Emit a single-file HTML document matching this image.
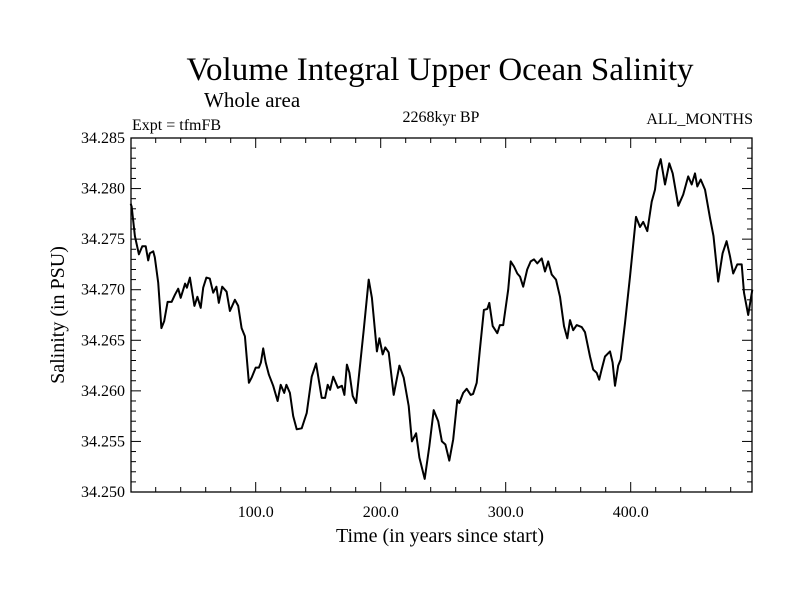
<!DOCTYPE html>
<html><head><meta charset="utf-8"><style>
html,body{margin:0;padding:0;background:#fff;}
svg{display:block;font-family:"Liberation Serif",serif;}
</style></head><body>
<svg id="chart" width="800" height="600" viewBox="0 0 800 600">
<rect width="800" height="600" fill="#fff"/>
<text x="440" y="80" font-size="33" text-anchor="middle">Volume Integral Upper Ocean Salinity</text>
<text x="204" y="107" font-size="21">Whole area</text>
<text x="132" y="130" font-size="16">Expt = tfmFB</text>
<text x="441" y="122" font-size="16" text-anchor="middle">2268kyr BP</text>
<text x="753" y="124" font-size="16" text-anchor="end">ALL_MONTHS</text>
<text x="440" y="542" font-size="20" text-anchor="middle">Time (in years since start)</text>
<text transform="translate(64,315) rotate(-90)" font-size="20" text-anchor="middle">Salinity (in PSU)</text>
<g id="ticks"></g>
<g id="labels"></g>
<polyline id="series" fill="none" stroke="#000" stroke-width="2" stroke-linejoin="round"/>
<rect x="131" y="138" width="621" height="354" fill="none" stroke="#000" stroke-width="1.3"/>
</svg>
<script>
const years = [0,0.8,3.4,6.6,9.3,12,14,15.3,18,19.3,22,24.6,26.8,29.5,32.7,35.4,38,40,43.5,45,47.4,51,53.4,56,58,60.6,63.3,66,68.6,70.5,73.2,76.7,79.4,83.4,86,88.7,91.4,94.6,96.7,100,102.6,104.2,106,108,110.6,114,117.5,120,122.8,124.6,127.4,130,132.8,136.8,140.8,144.8,148.3,152.8,155.5,157.6,159.5,162,165.8,169,171,173,175,177.6,180.3,186.4,190.4,193,197,199,201.6,203.7,206.4,210.4,215,218.4,222.4,225,228.3,231,235.2,238.9,242.4,246,249,251.8,254.9,258,261.3,262.9,266,268.8,272,273.9,276.8,279.4,282.6,285.3,286.9,289.6,293.3,295.4,298,302,304,306.6,309.3,311.4,314,317.2,320,322.6,325.3,328.8,331.4,334,336.8,340.2,343.4,346.6,349.3,351.4,354,356.8,360.8,363.4,367.4,370,372.7,374.8,376.7,379.4,383.4,385.5,387.4,390,392,395.4,399.4,404.2,407.4,410,413.3,416.8,419.4,421.3,424,427.4,430.9,433.6,438.1,442,446,448.8,451.4,453.3,456,459.4,463.4,466.2,470,473.5,476.7,479.4,482,485.3,488.8,490.6,494,497.3];
const salinity = [34.2785,34.2782,34.2753,34.2735,34.2743,34.2743,34.2729,34.2736,34.2738,34.2732,34.2707,34.2662,34.2669,34.2688,34.2688,34.2695,34.2701,34.2692,34.2706,34.2702,34.2712,34.2684,34.2693,34.2682,34.2702,34.2712,34.2711,34.2697,34.2703,34.2687,34.2703,34.2698,34.2679,34.2690,34.2684,34.2662,34.2654,34.2608,34.2613,34.2623,34.2623,34.2628,34.2642,34.2628,34.2616,34.2605,34.2590,34.2606,34.2598,34.2606,34.2598,34.2575,34.2562,34.2563,34.2578,34.2614,34.2627,34.2593,34.2593,34.2606,34.2601,34.2614,34.2603,34.2605,34.2596,34.2626,34.2618,34.2595,34.2588,34.2660,34.2710,34.2692,34.2639,34.2652,34.2636,34.2643,34.2638,34.2596,34.2625,34.2613,34.2585,34.2550,34.2558,34.2534,34.2513,34.2545,34.2581,34.2570,34.2550,34.2547,34.2531,34.2552,34.2591,34.2588,34.2598,34.2602,34.2596,34.2597,34.2608,34.2641,34.2680,34.2681,34.2687,34.2664,34.2657,34.2665,34.2665,34.2700,34.2728,34.2723,34.2716,34.2713,34.2703,34.2720,34.2728,34.2730,34.2726,34.2731,34.2718,34.2728,34.2715,34.2710,34.2693,34.2664,34.2652,34.2670,34.2660,34.2665,34.2663,34.2658,34.2634,34.2621,34.2618,34.2611,34.2621,34.2634,34.2639,34.2628,34.2605,34.2625,34.2631,34.2667,34.2713,34.2772,34.2762,34.2767,34.2758,34.2787,34.2799,34.2818,34.2829,34.2804,34.2825,34.2815,34.2783,34.2794,34.2812,34.2804,34.2815,34.2802,34.2809,34.2799,34.2771,34.2753,34.2708,34.2736,34.2748,34.2733,34.2716,34.2725,34.2725,34.2697,34.2675,34.2700];
const xTickLabels = ["100.0","200.0","300.0","400.0"];
const xTickValues = [100,200,300,400];
const yTickLabels = ["34.250","34.255","34.260","34.265","34.270","34.275","34.280","34.285"];
const yTickValues = [34.250,34.255,34.260,34.265,34.270,34.275,34.280,34.285];

const X0=131,X1=752,Y0=138,Y1=492,xmin=0,xmax=(752-130.7)/1.25,ymin=34.250,ymax=34.285;
function xs(v){return 130.7+(v-xmin)*1.25;}
function ys(v){return Y1-(v-ymin)/(ymax-ymin)*(Y1-Y0);}
const NS="http://www.w3.org/2000/svg";
const tg=document.getElementById('ticks'), lg=document.getElementById('labels');
function line(x1,y1,x2,y2,name){const l=document.createElementNS(NS,'line');
l.setAttribute('x1',x1);l.setAttribute('y1',y1);l.setAttribute('x2',x2);l.setAttribute('y2',y2);
l.setAttribute('stroke','#000');l.setAttribute('stroke-width','1');


tg.appendChild(l);}
for(let v=20;v<xmax;v+=20){const x=xs(v);const len=(v%100===0)?10:5;
line(x,Y1,x,Y1-len,'x-tick');line(x,Y0,x,Y0+len,'x-tick-top');}
for(let i=0;i<=35;i++){const v=ymin+i*0.001;const y=ys(v);const len=(i%5===0)?10:5;
line(X0,y,X0+len,y,'y-tick');line(X1,y,X1-len,y,'y-tick-right');}
xTickValues.forEach((v,i)=>{const t=document.createElementNS(NS,'text');
t.setAttribute('x',xs(v));t.setAttribute('y',517);t.setAttribute('font-size','16');t.setAttribute('text-anchor','middle');
t.textContent=xTickLabels[i];


lg.appendChild(t);});
yTickValues.forEach((v,i)=>{const t=document.createElementNS(NS,'text');
t.setAttribute('x',125);t.setAttribute('y',ys(v)+5);t.setAttribute('font-size','16');t.setAttribute('text-anchor','end');
t.textContent=yTickLabels[i];


lg.appendChild(t);});
document.getElementById('series').setAttribute('points',years.map((y,i)=>xs(y).toFixed(1)+','+ys(salinity[i]).toFixed(1)).join(' '));
</script>
</body></html>
